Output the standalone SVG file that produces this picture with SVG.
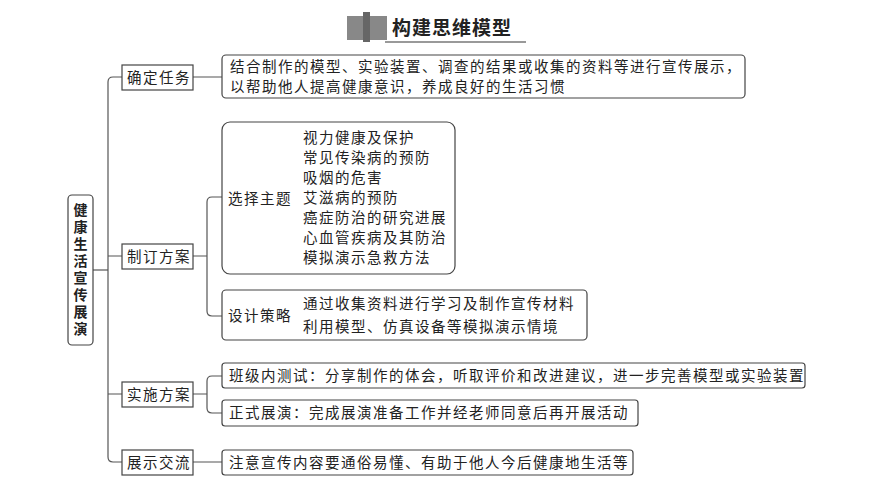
<svg xmlns="http://www.w3.org/2000/svg" width="870" height="489" viewBox="0 0 870 489">
<style>
text{font-family:"Noto Sans CJK SC","Liberation Sans",sans-serif;font-size:14.5px;fill:#222;letter-spacing:1.5px}
.b{fill:#fff;stroke:#444;stroke-width:1.2}
.c{fill:none;stroke:#555;stroke-width:1.2}
</style>
<rect width="870" height="489" fill="#fff"/>
<g id="title">
<rect x="347" y="16" width="40" height="24" fill="#888"/>
<rect x="363" y="12" width="7" height="30" fill="#666"/>
<line x1="385" y1="42" x2="526" y2="42" stroke="#999" stroke-width="2"/>
<text x="392" y="35" style="font-size:19px;font-weight:bold;letter-spacing:1px" fill="#111">构建思维模型</text>
</g>
<g id="connectors" class="c">
<path d="M92 270H108"/>
<path d="M122 77H113Q108 77 108 82V457Q108 462 113 462H122"/>
<path d="M108 256H122M108 394H122"/>
<path d="M193 77H222M193 256H207M193 394H207M193 462H222"/>
<path d="M222 197H212Q207 197 207 202V311Q207 316 212 316H222"/>
<path d="M222 376H212Q207 376 207 381V408Q207 413 212 413H222"/>
<path d="M300 131Q296 131 296 135V194Q296 198 292 199Q296 200 296 204V263Q296 268 300 268"/>
<path d="M300 294Q296 294 296 298V311Q296 315 292 316Q296 317 296 321V332Q296 337 300 337"/>
</g>
<g id="root"><rect class="b" x="68" y="195" width="25" height="150" rx="4"/>
<text x="80.5" y="203" writing-mode="vertical-rl" style="font-weight:bold;font-size:14px;letter-spacing:3px">健康生活宣传展演</text>
</g>
<g id="n1"><rect class="b" x="122" y="65" width="71" height="25"/><text x="127" y="83">确定任务</text></g>
<g id="n2"><rect class="b" x="122" y="244" width="71" height="25"/><text x="127" y="262">制订方案</text></g>
<g id="n3"><rect class="b" x="122" y="382" width="71" height="25"/><text x="127" y="400">实施方案</text></g>
<g id="n4"><rect class="b" x="122" y="450" width="71" height="25"/><text x="127" y="468">展示交流</text></g>
<g id="l1"><rect class="b" x="222" y="55" width="523" height="43" rx="4"/>
<text x="230" y="72">结合制作的模型、实验装置、调查的结果或收集的资料等进行宣传展示，</text>
<text x="230" y="92">以帮助他人提高健康意识，养成良好的生活习惯</text></g>
<g id="l2"><rect class="b" x="222" y="122" width="233" height="152" rx="8"/>
<text x="228" y="204">选择主题</text>
<text x="303" y="143">视力健康及保护</text>
<text x="303" y="163">常见传染病的预防</text>
<text x="303" y="183">吸烟的危害</text>
<text x="303" y="203">艾滋病的预防</text>
<text x="303" y="223">癌症防治的研究进展</text>
<text x="303" y="243">心血管疾病及其防治</text>
<text x="303" y="263">模拟演示急救方法</text></g>
<g id="l3"><rect class="b" x="222" y="290" width="365" height="50" rx="4"/>
<text x="228" y="321">设计策略</text>
<text x="303" y="309">通过收集资料进行学习及制作宣传材料</text>
<text x="303" y="332">利用模型、仿真设备等模拟演示情境</text></g>
<g id="l4"><rect class="b" x="222" y="363" width="583" height="25" rx="3"/><text x="229" y="381">班级内测试：分享制作的体会，听取评价和改进建议，进一步完善模型或实验装置</text></g>
<g id="l5"><rect class="b" x="222" y="400" width="416" height="26" rx="3"/><text x="229" y="418">正式展演：完成展演准备工作并经老师同意后再开展活动</text></g>
<g id="l6"><rect class="b" x="222" y="450" width="411" height="25" rx="3"/><text x="229" y="468">注意宣传内容要通俗易懂、有助于他人今后健康地生活等</text></g>
</svg>
